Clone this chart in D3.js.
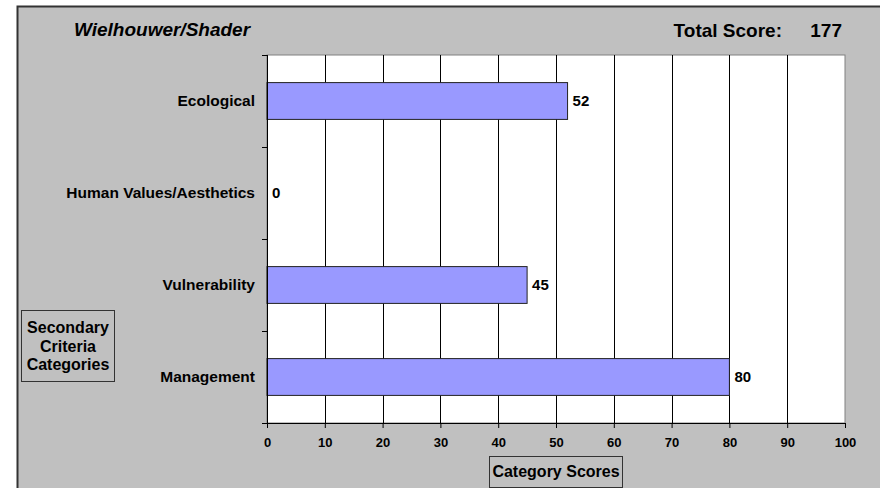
<!DOCTYPE html>
<html>
<head>
<meta charset="utf-8">
<script src="https://cdn.jsdelivr.net/npm/d3@7"></script>
<style>
  html, body { margin: 0; padding: 0; background: #fff; }
  svg { display: block; font-family: "Liberation Sans", Arial, sans-serif; }
</style>
</head>
<body>
<div id="chart"></div>
<script>
const categories = ['Ecological', 'Human Values/Aesthetics', 'Vulnerability', 'Management'];
const scores = [52, 0, 45, 80];
const xTicks = [0, 10, 20, 30, 40, 50, 60, 70, 80, 90, 100];
const chartTitle = 'Wielhouwer/Shader';
const totalLabel = 'Total Score:';
const totalValue = 177;

const W = 880, H = 488;
const plot = { left: 267, top: 55, right: 845, bottom: 423 };

const svg = d3.select('#chart').append('svg')
  .attr('width', W)
  .attr('height', H);

// frame
svg.append('rect')
  .attr('x', 17.5).attr('y', 6.5)
  .attr('width', W).attr('height', H)
  .attr('fill', '#c0c0c0')
  .attr('stroke', '#333').attr('stroke-width', 2);

const x = d3.scaleLinear().domain([0, 100]).range([plot.left, plot.right]);
const y = d3.scaleBand().domain(categories).range([plot.top, plot.bottom]).paddingInner(0.6).paddingOuter(0.3);
const yEdges = d3.scaleBand().domain(categories).range([plot.top, plot.bottom]);

// plot area
svg.append('rect')
  .attr('x', plot.left).attr('y', plot.top)
  .attr('width', plot.right - plot.left).attr('height', plot.bottom - plot.top)
  .attr('fill', '#fff')
  .attr('stroke', '#808080').attr('stroke-width', 1);

// gridlines
svg.append('g')
  .selectAll('line')
  .data(xTicks.slice(1, -1))
  .join('line')
  .attr('x1', d => Math.round(x(d)) + 0.5).attr('x2', d => Math.round(x(d)) + 0.5)
  .attr('y1', plot.top).attr('y2', plot.bottom)
  .attr('stroke', '#000').attr('stroke-width', 1);

// bars
svg.append('g')
  .selectAll('rect')
  .data(categories)
  .join('rect')
  .attr('x', x(0))
  .attr('y', d => y(d))
  .attr('width', (d, i) => x(scores[i]) - x(0))
  .attr('height', y.bandwidth())
  .attr('fill', '#9999ff')
  .attr('stroke', '#222')
  .attr('stroke-width', 1)
  .style('display', (d, i) => scores[i] > 0 ? null : 'none');

// value labels
svg.append('g')
  .selectAll('text')
  .data(categories)
  .join('text')
  .attr('x', (d, i) => x(scores[i]) + 5)
  .attr('y', d => y(d) + y.bandwidth() / 2)
  .attr('dy', '0.35em')
  .attr('font-size', 15).attr('font-weight', 'bold')
  .text((d, i) => scores[i]);

// x axis
const xAxis = svg.append('g')
  .attr('transform', `translate(0,${plot.bottom})`)
  .call(d3.axisBottom(x).tickValues(xTicks).tickSize(5).tickPadding(10));
xAxis.select('.domain').attr('stroke', '#000');
xAxis.selectAll('text').attr('font-size', 13).attr('font-weight', 'bold').attr('fill', '#000')
  .attr('font-family', '"Liberation Sans", Arial, sans-serif');

// y axis: ticks at category edges
const yAxis = svg.append('g');
yAxis.append('line')
  .attr('x1', plot.left + 0.5).attr('x2', plot.left + 0.5)
  .attr('y1', plot.top).attr('y2', plot.bottom)
  .attr('stroke', '#000');
yAxis.selectAll('line.tk')
  .data(categories.map(c => yEdges(c)).concat([plot.bottom]))
  .join('line')
  .attr('class', 'tk')
  .attr('x1', plot.left - 5).attr('x2', plot.left)
  .attr('y1', d => d + 0.5).attr('y2', d => d + 0.5)
  .attr('stroke', '#000');
yAxis.selectAll('text')
  .data(categories)
  .join('text')
  .attr('x', plot.left - 12)
  .attr('y', d => y(d) + y.bandwidth() / 2)
  .attr('dy', '0.35em')
  .attr('text-anchor', 'end')
  .attr('font-size', 15.5).attr('font-weight', 'bold')
  .text(d => d);

// titles
svg.append('text')
  .attr('x', 162).attr('y', 36)
  .attr('text-anchor', 'middle')
  .attr('font-size', 19).attr('font-weight', 'bold').attr('font-style', 'italic')
  .text(chartTitle);
svg.append('text')
  .attr('x', 782).attr('y', 37)
  .attr('text-anchor', 'end')
  .attr('font-size', 19).attr('font-weight', 'bold')
  .text(totalLabel);
svg.append('text')
  .attr('x', 842).attr('y', 37)
  .attr('text-anchor', 'end')
  .attr('font-size', 19).attr('font-weight', 'bold')
  .text(totalValue);

// y axis title box
svg.append('rect')
  .attr('x', 21.5).attr('y', 310.5).attr('width', 93).attr('height', 71)
  .attr('fill', 'none').attr('stroke', '#333');
svg.append('text')
  .attr('x', 68).attr('y', 333)
  .attr('text-anchor', 'middle')
  .attr('font-size', 16).attr('font-weight', 'bold')
  .selectAll('tspan')
  .data(['Secondary', 'Criteria', 'Categories'])
  .join('tspan')
  .attr('x', 68)
  .attr('dy', (d, i) => i === 0 ? 0 : 18.5)
  .text(d => d);

// x axis title box
svg.append('rect')
  .attr('x', 489.5).attr('y', 456.5).attr('width', 133).attr('height', 31)
  .attr('fill', 'none').attr('stroke', '#333');
svg.append('text')
  .attr('x', 556).attr('y', 477)
  .attr('text-anchor', 'middle')
  .attr('font-size', 16).attr('font-weight', 'bold')
  .text('Category Scores');
</script>
</body>
</html>
